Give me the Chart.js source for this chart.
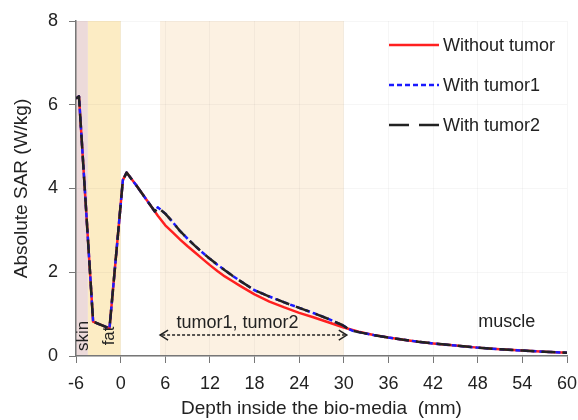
<!DOCTYPE html>
<html>
<head>
<meta charset="utf-8">
<script src="https://cdn.jsdelivr.net/npm/chart.js@4.4.1/dist/chart.umd.min.js"></script>
<style>
  html, body { margin: 0; padding: 0; background: #fff; }
  #wrap { width: 578px; height: 420px; }
</style>
</head>
<body>
<div id="wrap"><canvas id="sarChart" width="578" height="420"></canvas></div>
<script>
// depth (mm) and SAR (W/kg) for the tissue without tumor
const depthNoTumor = [-6, -5.6, -3.7, -1.5, 0.3, 0.8, 2, 3, 4, 4.6, 5, 6, 7, 8, 9, 10, 11, 12, 13, 14, 15, 16, 18, 20, 22, 24, 26, 28, 30, 32, 34, 36, 38, 40, 42, 45, 48, 51, 54, 57, 60];
const sarNoTumor   = [6.15, 6.2, 0.82, 0.66, 4.2, 4.38, 4.1, 3.85, 3.6, 3.45, 3.35, 3.12, 2.95, 2.78, 2.62, 2.47, 2.32, 2.17, 2.03, 1.9, 1.79, 1.68, 1.47, 1.3, 1.16, 1.03, 0.92, 0.8, 0.68, 0.58, 0.5, 0.44, 0.39, 0.34, 0.3, 0.25, 0.2, 0.16, 0.13, 0.1, 0.08];

// with a tumor placed between about 5 and 30 mm
const depthTumor = [-6, -5.6, -3.7, -1.5, 0.3, 0.8, 2, 3, 4, 4.6, 5, 6, 7, 8, 9, 10, 11, 12, 13, 14, 15, 16, 18, 20, 22, 24, 26, 28, 29.8, 30.6, 31.2, 32, 34, 36, 38, 40, 42, 45, 48, 51, 54, 57, 60];
const sarTumor1  = [6.15, 6.2, 0.82, 0.66, 4.2, 4.38, 4.1, 3.85, 3.6, 3.45, 3.55, 3.4, 3.2, 2.98, 2.8, 2.63, 2.47, 2.32, 2.18, 2.05, 1.92, 1.8, 1.57, 1.42, 1.28, 1.15, 1.02, 0.88, 0.74, 0.65, 0.6, 0.57, 0.5, 0.44, 0.39, 0.34, 0.3, 0.25, 0.2, 0.16, 0.13, 0.1, 0.08];
const sarTumor2  = [6.15, 6.2, 0.82, 0.66, 4.2, 4.38, 4.1, 3.85, 3.6, 3.45, 3.55, 3.4, 3.2, 2.98, 2.8, 2.63, 2.47, 2.32, 2.18, 2.05, 1.92, 1.8, 1.57, 1.42, 1.28, 1.15, 1.02, 0.88, 0.74, 0.65, 0.6, 0.57, 0.5, 0.44, 0.39, 0.34, 0.3, 0.25, 0.2, 0.16, 0.13, 0.1, 0.08];

const seriesNames = ['Without tumor', 'With tumor1', 'With tumor2'];

// tissue layers along the depth axis: [from, to, fill]
const layers = [
  [-6, -4.4, '#ecdada'],
  [-4.4, 0, '#fcecc4'],
  [5.3, 30, '#fcf1e2']
];

const toPoints = (xs, ys) => xs.map((x, i) => ({ x: x, y: ys[i] }));

const FONT = 'Arial, "Liberation Sans", sans-serif';
const TEXT = '#222';

// coloured tissue bands behind everything
const bandsPlugin = {
  id: 'bands',
  beforeDraw(chart) {
    const { ctx, chartArea, scales } = chart;
    ctx.save();
    layers.forEach(([a, b, c]) => {
      const x0 = scales.x.getPixelForValue(a);
      const x1 = scales.x.getPixelForValue(b);
      ctx.fillStyle = c;
      ctx.fillRect(x0, chartArea.top, x1 - x0, chartArea.bottom - chartArea.top);
    });
    ctx.restore();
  }
};

// tissue labels, tumor extent arrow and the legend
const notesPlugin = {
  id: 'notes',
  afterDatasetsDraw(chart) {
    const { ctx, scales } = chart;
    const px = v => scales.x.getPixelForValue(v);
    const py = v => scales.y.getPixelForValue(v);
    ctx.save();
    ctx.fillStyle = TEXT;

    // rotated layer names
    ctx.font = '17px ' + FONT;
    ctx.textAlign = 'center';
    ctx.textBaseline = 'middle';
    [['skin', -4.95, 0.48], ['fat', -1.55, 0.48]].forEach(([t, x, y]) => {
      ctx.save();
      ctx.translate(px(x), py(y));
      ctx.rotate(-Math.PI / 2);
      ctx.fillText(t, 0, 0);
      ctx.restore();
    });

    ctx.font = '18px ' + FONT;
    ctx.textAlign = 'left';
    ctx.fillText('tumor1, tumor2', px(7.5), py(0.78));
    ctx.textAlign = 'center';
    ctx.fillText('muscle', px(51.9), py(0.8));

    // double headed dashed arrow over the tumor
    const ay = py(0.5), ax0 = px(5.3), ax1 = px(30.4);
    ctx.strokeStyle = '#222';
    ctx.lineWidth = 1.5;
    ctx.setLineDash([3, 2]);
    ctx.beginPath();
    ctx.moveTo(ax0 + 2, ay);
    ctx.lineTo(ax1 - 2, ay);
    ctx.stroke();
    ctx.setLineDash([]);
    ctx.beginPath();
    ctx.moveTo(ax0 + 8, ay - 5); ctx.lineTo(ax0, ay); ctx.lineTo(ax0 + 8, ay + 5);
    ctx.moveTo(ax1 - 8, ay - 5); ctx.lineTo(ax1, ay); ctx.lineTo(ax1 - 8, ay + 5);
    ctx.stroke();

    // legend
    const rows = [
      { y: 45, color: '#ff2020', dash: [] , w: 2.5},
      { y: 85, color: '#1a1aff', dash: [5, 3], w: 2.5 },
      { y: 125, color: '#222', dash: [20, 10], w: 2.5 }
    ];
    ctx.font = '18px ' + FONT;
    ctx.textAlign = 'left';
    ctx.textBaseline = 'middle';
    rows.forEach((r, i) => {
      ctx.strokeStyle = r.color;
      ctx.lineWidth = r.w;
      ctx.setLineDash(r.dash);
      ctx.beginPath();
      ctx.moveTo(389, r.y);
      ctx.lineTo(439, r.y);
      ctx.stroke();
      ctx.setLineDash([]);
      ctx.fillText(seriesNames[i], 443, r.y + 1);
    });
    ctx.restore();
  }
};

new Chart(document.getElementById('sarChart'), {
  type: 'line',
  data: {
    datasets: [
      {
        label: seriesNames[2],
        data: toPoints(depthTumor, sarTumor2),
        borderColor: '#222',
        borderWidth: 2.5,
        borderDash: [14, 7],
        order: 1
      },
      {
        label: seriesNames[1],
        data: toPoints(depthTumor, sarTumor1),
        borderColor: '#1a1aff',
        borderWidth: 2.5,
        borderDash: [5, 3],
        order: 2
      },
      {
        label: seriesNames[0],
        data: toPoints(depthNoTumor, sarNoTumor),
        borderColor: '#ff2020',
        borderWidth: 2.5,
        order: 3
      }
    ]
  },
  options: {
    responsive: false,
    animation: false,
    layout: { padding: { top: 21, right: 11, left: 0, bottom: 0 } },
    elements: {
      point: { radius: 0 },
      line: { tension: 0, fill: false, borderJoinStyle: 'round' }
    },
    plugins: { legend: { display: false }, tooltip: { enabled: false } },
    scales: {
      x: {
        type: 'linear',
        min: -6,
        max: 60,
        afterFit: s => { s.height = 64; s.paddingLeft = 0; s.paddingRight = 0; },
        ticks: { stepSize: 6, color: TEXT, font: { family: FONT, size: 18 }, padding: 10, maxRotation: 0 },
        grid: { color: 'rgba(0,0,0,0.035)', tickColor: '#777', tickLength: 7 },
        border: { color: '#777', width: 1.5 },
        title: { display: true, text: 'Depth inside the bio-media  (mm)', color: TEXT, font: { family: FONT, size: 19 }, padding: { top: 0, bottom: 0 } }
      },
      y: {
        min: 0,
        max: 8,
        afterFit: s => { s.width = 76; s.paddingTop = 0; s.paddingBottom = 0; },
        ticks: { stepSize: 2, color: TEXT, font: { family: FONT, size: 18 }, padding: 11 },
        grid: { color: 'rgba(0,0,0,0.035)', tickColor: '#777', tickLength: 7 },
        border: { color: '#777', width: 1.5 },
        title: { display: true, text: 'Absolute SAR (W/kg)', color: TEXT, font: { family: FONT, size: 19 }, padding: { top: 10, bottom: 0 } }
      }
    }
  },
  plugins: [bandsPlugin, notesPlugin]
});
</script>
</body>
</html>
